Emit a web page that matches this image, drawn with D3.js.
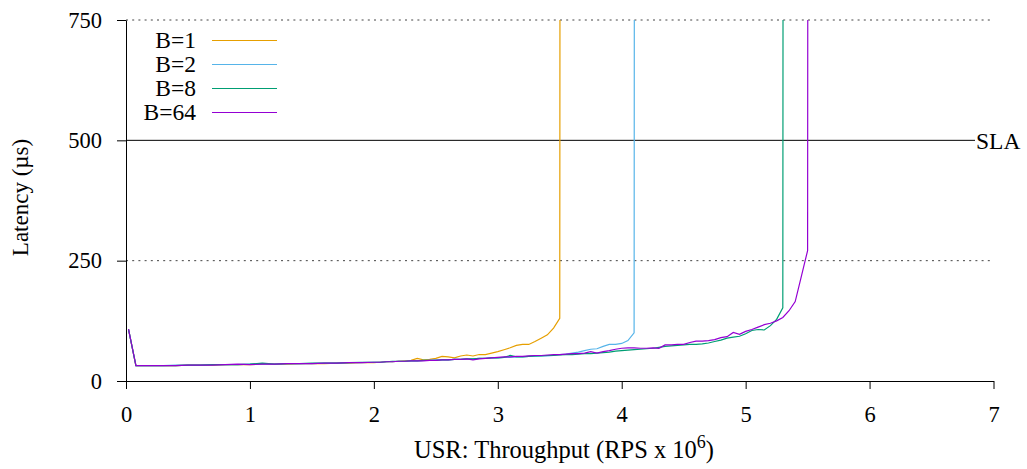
<!DOCTYPE html>
<html>
<head>
<meta charset="utf-8">
<script src="https://cdn.jsdelivr.net/npm/d3@7"></script>
<style>
  body { margin: 0; background: #fff; }
  svg { display: block; font-family: "Liberation Serif", "Times New Roman", serif; }
</style>
</head>
<body>
<div class="chart-container"></div>
<script>
// offered load, RPS x 10^6
const throughput = [0.02, 0.08, 0.2, 0.3, 0.4, 0.5, 0.6, 0.7, 0.8, 0.9, 1.0, 1.1, 1.2, 1.3, 1.4, 1.5, 1.6, 1.7, 1.8, 1.9, 2.0,
  2.05, 2.1, 2.15, 2.2, 2.25, 2.3, 2.35, 2.4, 2.45, 2.5, 2.55, 2.6, 2.65, 2.7, 2.75, 2.8, 2.85, 2.9, 2.95, 3.0,
  3.05, 3.1, 3.15, 3.2, 3.25, 3.3, 3.35, 3.4, 3.45, 3.5, 3.55, 3.6, 3.65, 3.7, 3.75, 3.8, 3.85, 3.9, 3.95, 4.0,
  4.05, 4.1, 4.15, 4.2, 4.25, 4.3, 4.35, 4.4, 4.45, 4.5, 4.55, 4.6, 4.65, 4.7, 4.75, 4.8, 4.85, 4.9, 4.95, 5.0,
  5.05, 5.1, 5.15, 5.2, 5.25, 5.3, 5.35, 5.4, 5.45, 5.5, 5.55];

// latency in us (20000 = saturated, off the chart; null = not measured)
const latencyB1 = [108, 32, 32, 32, 32, 33, 33, 33, 34, 34, 34, 35, 35, 35, 36, 36, 36, 37, 37, 38, 38,
  39, 40, 40, 41, 42, 43, 47, 44, 45, 47, 51, 50, 48, 52, 54, 52, 55, 55, 58, 61,
  65, 69, 74, 76, 76, 82, 89, 96, 110, 130, 20000, null, null, null, null, null, null, null, null, null,
  null, null, null, null, null, null, null, null, null, null, null, null, null, null, null, null, null, null, null, null,
  null, null, null, null, null, null, null, null, null, null, null];
const latencyB2 = [108, 32, 32, 32, 33, 33, 33, 34, 34, 34, 35, 35, 35, 36, 36, 36, 37, 37, 38, 38, 39,
  39, 40, 40, 41, 41, 42, 42, 43, 43, 44, 44, 44, 45, 45, 46, 46, 47, 47, 48, 48,
  49, 49, 50, 50, 51, 51, 52, 52, 53, 55, 56, 58, 60, 63, 66, 67, 72, 76, 76, 78,
  84, 100, 20000, null, null, null, null, null, null, null, null, null, null, null, null, null, null, null, null, null,
  null, null, null, null, null, null, null, null, null, null, null];
const latencyB8 = [108, 32, 32, 32, 32, 33, 33, 34, 34, 34, 35, 37, 35, 36, 36, 37, 37, 37, 38, 39, 39,
  39, 40, 41, 41, 41, 42, 42, 43, 43, 43, 44, 44, 45, 45, 46, 46, 47, 47, 48, 48,
  49, 53, 50, 50, 51, 52, 52, 53, 53, 54, 55, 55, 56, 57, 57, 58, 59, 60, 62, 63,
  64, 65, 66, 67, 68, 70, 72, 73, 74, 75, 76, 76, 77, 79, 82, 85, 89, 91, 93, 98,
  105, 107, 106, 115, 128, 152, 20000, null, null, null, null];
const latencyB64 = [108, 32, 32, 32, 32, 33, 33, 33, 34, 35, 34, 35, 35, 36, 36, 36, 37, 37, 38, 38, 39,
  39, 40, 40, 41, 41, 42, 42, 42, 43, 43, 44, 44, 45, 45, 46, 44, 46, 47, 48, 49,
  50, 50, 51, 51, 52, 53, 53, 54, 55, 55, 56, 57, 57, 58, 61, 58, 61, 63, 66, 68,
  69, 69, 68, 68, 69, 68, 75, 75, 76, 76, 80, 83, 83, 84, 86, 90, 92, 101, 97, 103,
  107, 112, 117, 120, 125, 132, 146, 165, 218, 271, 20000];

const seriesNames = ['B=1', 'B=2', 'B=8', 'B=64'];
const seriesColors = ['#e69f00', '#56b4e9', '#009e73', '#9400d3'];
const xTickValues = [0, 1, 2, 3, 4, 5, 6, 7];
const yTickValues = [0, 250, 500, 750];
const dottedGrid = [250, 750];
const slaLatency = 500;

function setupCanvas(series) {
  const svg_width = 1027;
  const svg_height = 469;
  const chart_margin = {top: 20, right: 33.5, bottom: 88, left: 126};
  const chart_width = svg_width - (chart_margin.left + chart_margin.right);
  const chart_height = svg_height - (chart_margin.top + chart_margin.bottom);

  const svg = d3.select('.chart-container').append('svg')
    .attr('width', svg_width).attr('height', svg_height);
  const g = svg.append('g')
    .attr('transform', `translate(${chart_margin.left},${chart_margin.top})`);

  const xScale = d3.scaleLinear().domain([0, 7]).range([0, chart_width]);
  const yScale = d3.scaleLinear().domain([0, 750]).range([chart_height, 0]);

  // dotted grid at 250 / 750
  g.selectAll('.grid').data(dottedGrid).enter().append('line')
    .attr('class', 'grid')
    .attr('x1', 0).attr('x2', chart_width)
    .attr('y1', d => yScale(d)).attr('y2', d => yScale(d))
    .attr('stroke', '#444').attr('stroke-width', 1)
    .attr('stroke-dasharray', '2,4.2');

  // SLA line + label
  const slaEnd = chart_width - 18.5;
  g.append('line')
    .attr('x1', 0).attr('x2', slaEnd)
    .attr('y1', yScale(slaLatency)).attr('y2', yScale(slaLatency))
    .attr('stroke', '#000').attr('stroke-width', 1);
  g.append('text')
    .attr('x', slaEnd + 1).attr('y', yScale(slaLatency))
    .attr('dy', '0.35em')
    .style('font-size', '23.5px')
    .text('SLA');

  // axes
  const xAxis = d3.axisBottom(xScale).tickValues(xTickValues)
    .tickFormat(d3.format('d'))
    .tickSizeInner(8).tickSizeOuter(0).tickPadding(17);
  const xAxisDraw = g.append('g')
    .attr('transform', `translate(0,${chart_height})`)
    .call(xAxis);
  const yAxis = d3.axisLeft(yScale).tickValues(yTickValues)
    .tickFormat(d3.format('d'))
    .tickSizeInner(9).tickSizeOuter(0).tickPadding(15);
  const yAxisDraw = g.append('g').call(yAxis);
  [xAxisDraw, yAxisDraw].forEach(a => {
    a.attr('font-family', null).attr('font-size', null);
    a.selectAll('text').style('font-size', '22.5px').attr('fill', '#000');
    a.selectAll('line, path').attr('stroke', '#000');
  });

  // lines
  g.append('clipPath').attr('id', 'plot-clip')
    .append('rect').attr('width', chart_width).attr('height', chart_height);

  const line = d3.line()
    .defined(d => d[1] != null)
    .x(d => xScale(d[0]))
    .y(d => yScale(d[1]));

  g.append('g').attr('clip-path', 'url(#plot-clip)')
    .selectAll('.series').data(series).enter().append('path')
    .attr('class', 'series')
    .attr('d', d => line(d.values))
    .attr('fill', 'none')
    .attr('stroke', d => d.color)
    .attr('stroke-width', 1.2);

  // legend
  const legend = svg.append('g').attr('class', 'legend')
    .selectAll('g').data(series).enter().append('g')
    .attr('transform', (d, i) => `translate(0,${40.5 + i * 24})`);
  legend.append('text')
    .attr('x', 196).attr('y', 0).attr('dy', '0.33em')
    .attr('text-anchor', 'end')
    .style('font-size', '23.5px')
    .text(d => d.name);
  legend.append('line')
    .attr('x1', 212).attr('x2', 277)
    .attr('stroke', d => d.color).attr('stroke-width', 1.2);

  // axis titles
  svg.append('text')
    .attr('transform', `translate(28,${chart_margin.top + chart_height / 2 - 3}) rotate(-90)`)
    .attr('text-anchor', 'middle')
    .style('font-size', '23px')
    .text('Latency (µs)');

  const xTitle = svg.append('text')
    .attr('x', 564).attr('y', 458)
    .attr('text-anchor', 'middle')
    .style('font-size', '24.5px');
  xTitle.append('tspan').text('USR: Throughput (RPS x 10');
  xTitle.append('tspan').attr('dy', -10).style('font-size', '18px').text('6');
  xTitle.append('tspan').attr('dy', 10).text(')');
}

function ready() {
  const latencies = [latencyB1, latencyB2, latencyB8, latencyB64];
  const series = seriesNames.map((name, i) => ({
    name: name,
    color: seriesColors[i],
    values: throughput.map((x, j) => [x, latencies[i][j]])
  }));
  setupCanvas(series);
}

ready();
</script>
</body>
</html>
